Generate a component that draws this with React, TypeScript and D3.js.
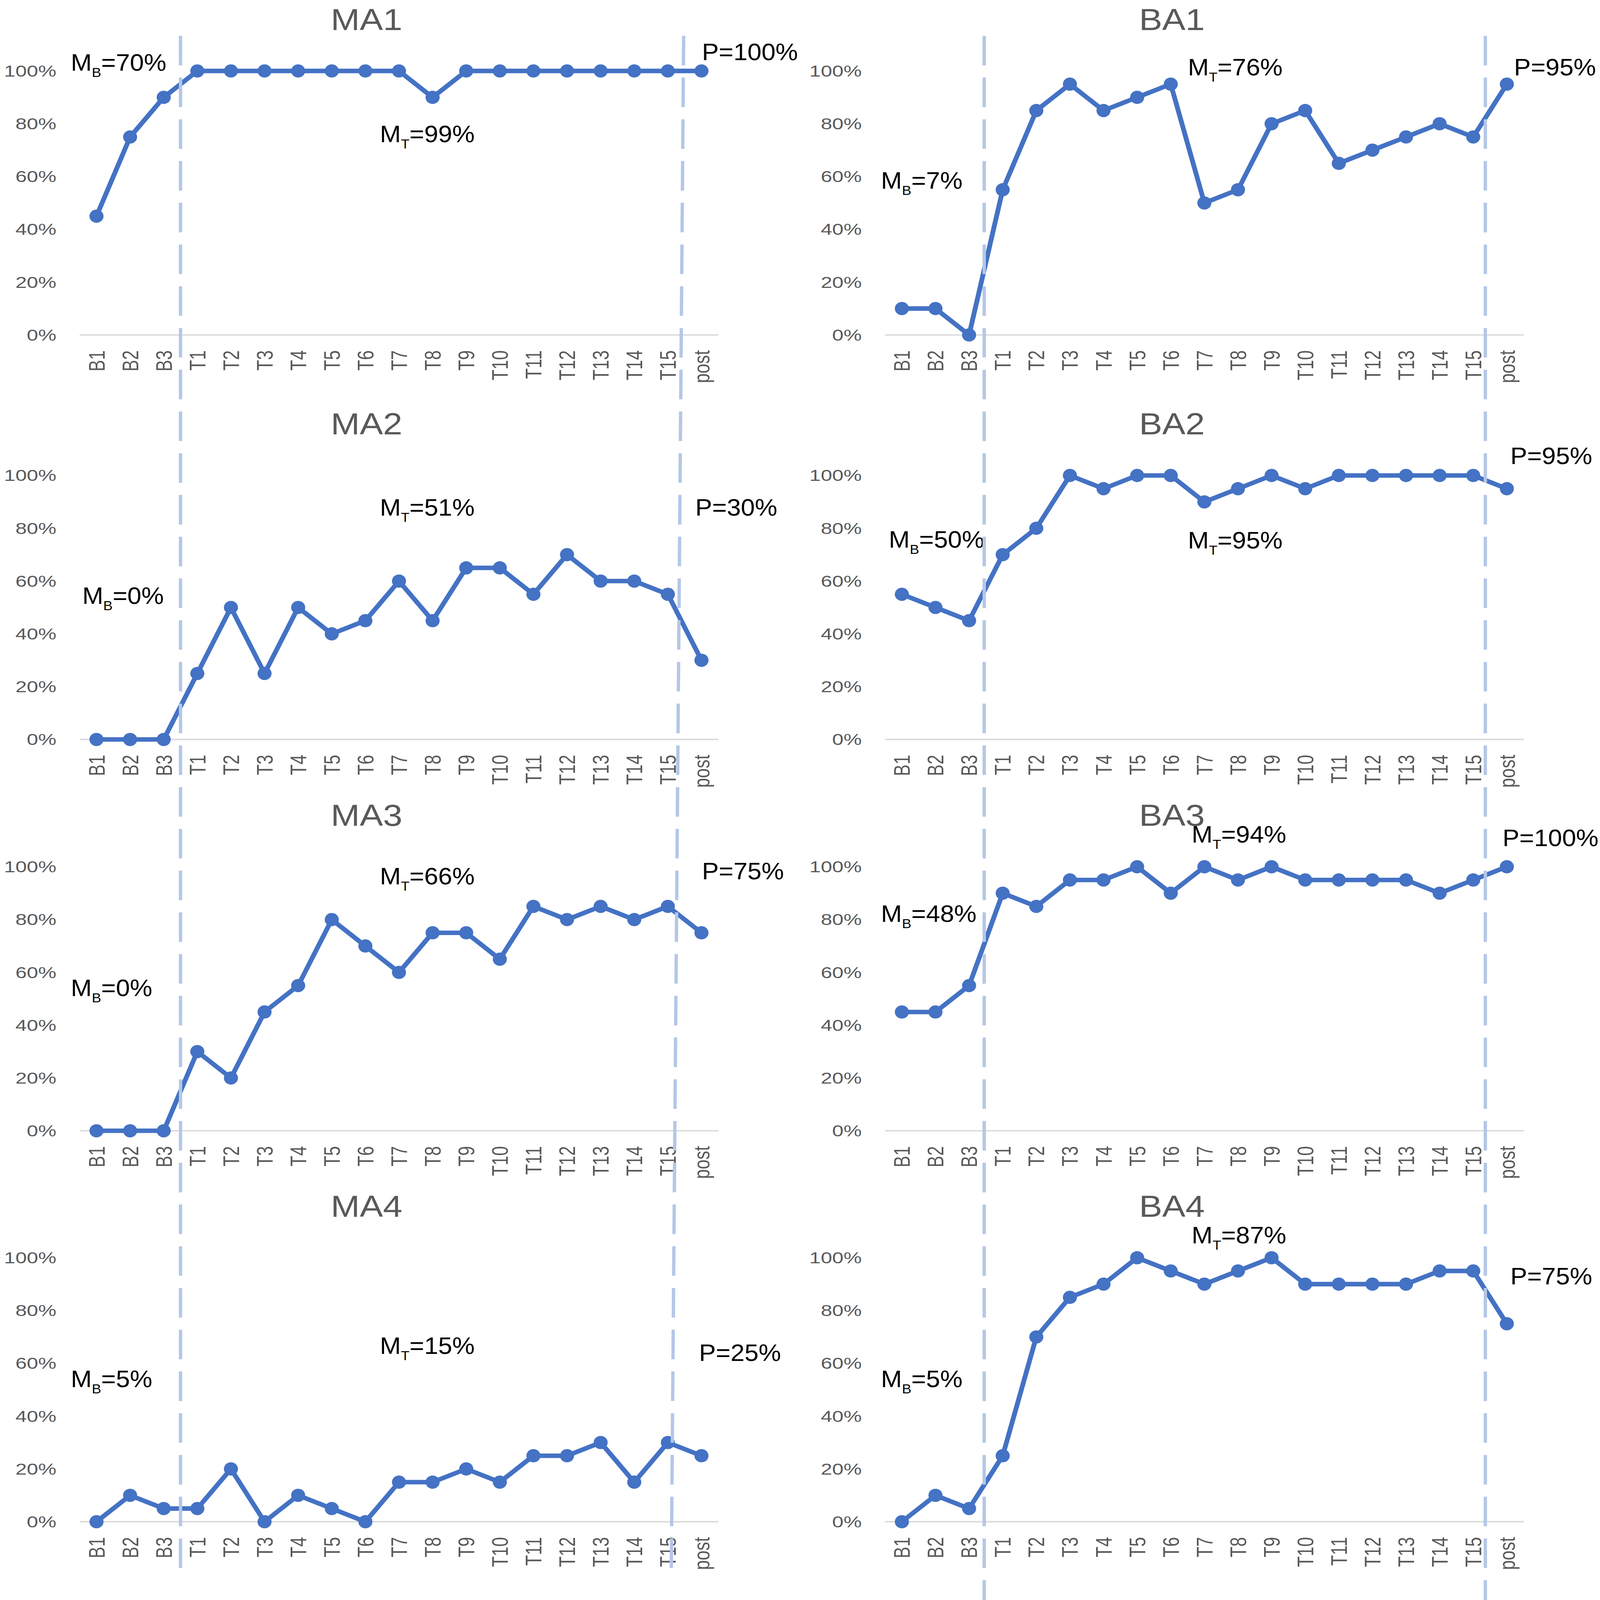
import * as d3 from "d3";

const categories = [
  "B1", "B2", "B3",
  "T1", "T2", "T3", "T4", "T5", "T6", "T7", "T8", "T9", "T10",
  "T11", "T12", "T13", "T14", "T15",
  "post",
];
const yTicks = [0, 20, 40, 60, 80, 100];

const ma1 = [45, 75, 90, 100, 100, 100, 100, 100, 100, 100, 90, 100, 100, 100, 100, 100, 100, 100, 100];
const ba1 = [10, 10, 0, 55, 85, 95, 85, 90, 95, 50, 55, 80, 85, 65, 70, 75, 80, 75, 95];
const ma2 = [0, 0, 0, 25, 50, 25, 50, 40, 45, 60, 45, 65, 65, 55, 70, 60, 60, 55, 30];
const ba2 = [55, 50, 45, 70, 80, 100, 95, 100, 100, 90, 95, 100, 95, 100, 100, 100, 100, 100, 95];
const ma3 = [0, 0, 0, 30, 20, 45, 55, 80, 70, 60, 75, 75, 65, 85, 80, 85, 80, 85, 75];
const ba3 = [45, 45, 55, 90, 85, 95, 95, 100, 90, 100, 95, 100, 95, 95, 95, 95, 90, 95, 100];
const ma4 = [0, 10, 5, 5, 20, 0, 10, 5, 0, 15, 15, 20, 15, 25, 25, 30, 15, 30, 25];
const ba4 = [0, 10, 5, 25, 70, 85, 90, 100, 95, 90, 95, 100, 90, 90, 90, 90, 95, 95, 75];

const panelNames = ["MA1", "BA1", "MA2", "BA2", "MA3", "BA3", "MA4", "BA4"];
const panelSeries = [ma1, ba1, ma2, ba2, ma3, ba3, ma4, ba4];
// baseline mean, treatment mean, post
const meanBaseline = [70, 7, 0, 50, 0, 48, 5, 5];
const meanTreatment = [99, 76, 51, 95, 66, 94, 15, 87];
const postValue = [100, 95, 30, 95, 75, 100, 25, 75];

// layout
const W = 4317;
const H = 4600;
const colX = [215, 2388];
const rowY = [204, 1367, 2492, 3616];
const PLOT_W = 1723;
const PLOT_H = 759;
const BLUE = "#4472C4";
const DASH = "#B4C7E7";
const GREY = "#595959";
const FONT = "'Liberation Sans', Arial, sans-serif";

// annotation offsets relative to plot origin: [mb, mt, p] as [dx, dy]
const noteOffsets: [number, number][][] = [
  [[-24, -1], [810, 205], [1679, -31]],
  [[-11, 338], [817, 13], [1697, 13]],
  [[7, 369], [810, 115], [1661, 115]],
  [[10, 207], [817, 210], [1687, -33]],
  [[-24, 372], [810, 51], [1679, 36]],
  [[-11, 158], [827, -70], [1666, -59]],
  [[-24, 372], [810, 276], [1671, 297]],
  [[-11, 372], [827, -41], [1687, 77]],
];

// phase dividers per column, as fractional category index [top, bottom]
const dividers: [number, number][][] = [
  [[2.5, 2.5], [17.47, 17.1]],
  [[2.45, 2.45], [17.36, 17.36]],
];
const dividerBottom = [4540, 4600];

const x = d3.scalePoint<string>().domain(categories).range([0, PLOT_W]).padding(0.5);
const y = d3.scaleLinear().domain([0, 100]).range([PLOT_H, 0]);

function Note({ pos, sub, value }: { pos: [number, number]; sub?: string; value: number }) {
  return (
    <text x={pos[0]} y={pos[1]} fontSize={68} fill="#000">
      {sub ? (
        <>
          <tspan>M</tspan>
          <tspan fontSize={38} dy={18}>{sub}</tspan>
          <tspan dy={-18}>={value}%</tspan>
        </>
      ) : (
        <tspan>P={value}%</tspan>
      )}
    </text>
  );
}

function Panel({ idx }: { idx: number }) {
  const col = idx % 2;
  const row = Math.floor(idx / 2);
  const values = panelSeries[idx];
  const line = d3
    .line<number>()
    .x((_, i) => x(categories[i]) as number)
    .y((d) => y(d));
  const offs = noteOffsets[idx];
  return (
    <g transform={`translate(${colX[col]},${rowY[row]})`}>
      <text
        transform={`translate(774,-118) scale(1.08,1)`}
        textAnchor="middle"
        fontSize={87}
        fill={GREY}
      >
        {panelNames[idx]}
      </text>
      {yTicks.map((t) => (
        <text
          key={t}
          transform={`translate(-63,${y(t) + 16}) scale(1.2,1)`}
          textAnchor="end"
          fontSize={46}
          fill={GREY}
        >
          {t}%
        </text>
      ))}
      <line x1={0} x2={PLOT_W} y1={y(0)} y2={y(0)} stroke="#D9D9D9" strokeWidth={4} />
      {categories.map((c) => (
        <text
          key={c}
          transform={`translate(${x(c)},${y(0) + 44}) scale(1.2,1) rotate(-90)`}
          textAnchor="end"
          dy="0.36em"
          fontSize={50}
          fill={GREY}
        >
          {c}
        </text>
      ))}
      <path d={line(values) ?? ""} fill="none" stroke={BLUE} strokeWidth={13} strokeLinejoin="round" />
      {values.map((v, i) => (
        <circle key={i} cx={x(categories[i])} cy={y(v)} r={19} fill={BLUE} />
      ))}
      <Note pos={offs[0]} sub="B" value={meanBaseline[idx]} />
      <Note pos={offs[1]} sub="T" value={meanTreatment[idx]} />
      <Note pos={offs[2]} value={postValue[idx]} />
    </g>
  );
}

export default function App() {
  const step = x.step();
  return (
    <svg
      viewBox={`0 0 ${W} ${H}`}
      preserveAspectRatio="none"
      style={{ position: "fixed", left: 0, top: 0, width: "100vw", height: "100vh", background: "#fff" }}
      fontFamily={FONT}
    >
      <rect width={W} height={H} fill="#fff" />
      {panelNames.map((_, i) => (
        <Panel key={i} idx={i} />
      ))}
      {dividers.map((pair, col) =>
        pair.map(([top, bottom], k) => (
          <line
            key={`${col}-${k}`}
            x1={colX[col] + step * (top + 0.5)}
            x2={colX[col] + step * (bottom + 0.5)}
            y1={103}
            y2={dividerBottom[col]}
            stroke={DASH}
            strokeWidth={9}
            strokeDasharray="85 35"
          />
        ))
      )}
    </svg>
  );
}
